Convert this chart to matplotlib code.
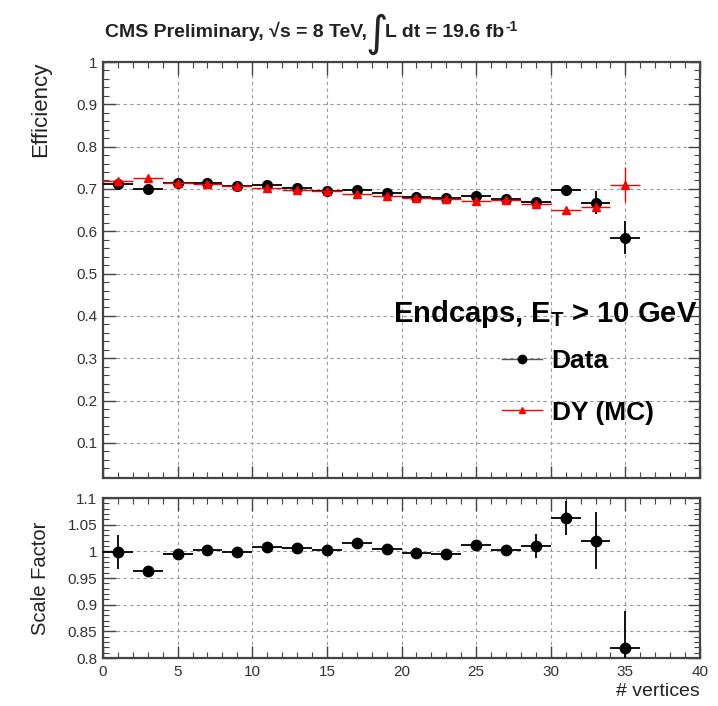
import matplotlib
matplotlib.use("Agg")
import matplotlib.pyplot as plt
from matplotlib.lines import Line2D
from matplotlib.ticker import MultipleLocator, FuncFormatter

plt.rcParams['font.family'] = ['Liberation Sans', 'DejaVu Sans']
plt.rcParams['mathtext.fontset'] = 'custom'
plt.rcParams['mathtext.rm'] = 'Liberation Sans'
plt.rcParams['mathtext.it'] = 'Liberation Sans:italic'
plt.rcParams['mathtext.bf'] = 'Liberation Sans:bold'

# bins of number of vertices (width 2)
vertices = [1, 3, 5, 7, 9, 11, 13, 15, 17, 19, 21, 23, 25, 27, 29, 31, 33, 35]
bin_half = [1] * len(vertices)

eff_data = [0.712, 0.700, 0.714, 0.714, 0.708, 0.709, 0.702, 0.694, 0.698,
            0.691, 0.680, 0.678, 0.684, 0.676, 0.670, 0.697, 0.668, 0.585]
eff_data_err = [0.012, 0.005, 0.004, 0.004, 0.004, 0.004, 0.004, 0.004, 0.004,
                0.004, 0.004, 0.005, 0.005, 0.006, 0.008, 0.012, 0.026, 0.039]
eff_mc = [0.718, 0.727, 0.714, 0.712, 0.707, 0.702, 0.698, 0.694, 0.688,
          0.684, 0.679, 0.676, 0.672, 0.674, 0.664, 0.651, 0.658, 0.710]
eff_mc_err = [0.004, 0.004, 0.002, 0.002, 0.002, 0.002, 0.002, 0.002, 0.002,
              0.002, 0.003, 0.003, 0.003, 0.004, 0.005, 0.007, 0.010, 0.041]

scale_factor = [0.998, 0.963, 0.995, 1.002, 0.998, 1.008, 1.006, 1.003, 1.015,
                1.005, 0.996, 0.995, 1.012, 1.002, 1.010, 1.062, 1.020, 0.819]
scale_factor_err = [0.032, 0.005, 0.005, 0.004, 0.005, 0.005, 0.005, 0.005, 0.005,
                    0.006, 0.006, 0.006, 0.007, 0.009, 0.022, 0.032, 0.054, 0.069]

W, H = 718, 706
fig = plt.figure(figsize=(W / 100, H / 100), dpi=100)

def px_axes(left, top, right, bottom):
    return fig.add_axes([left / W, 1 - bottom / H, (right - left) / W, (bottom - top) / H])

ax = px_axes(103, 62, 700, 478)
ax2 = px_axes(103, 498, 700, 658)

fmt = FuncFormatter(lambda v, p: f"{v:g}")
for a in (ax, ax2):
    for s in a.spines.values():
        s.set_color('#444444')
        s.set_linewidth(1.6)
    a.tick_params(which='both', direction='in', top=True, right=True,
                  colors='#444444', labelcolor='#333333', labelsize=11)
    a.tick_params(which='major', length=9, width=1.0)
    a.tick_params(which='minor', length=4.5, width=0.8)
    a.tick_params(axis='y', pad=4)
    a.set_xlim(0, 40)
    a.xaxis.set_major_locator(MultipleLocator(5))
    a.xaxis.set_minor_locator(MultipleLocator(1))
    a.xaxis.set_major_formatter(fmt)
    a.yaxis.set_major_formatter(fmt)
    a.grid(True, which='major', linestyle=(0, (3, 3)), color='#999999', linewidth=0.8)
    a.set_axisbelow(True)

# top panel
ax.set_ylim(0.017, 1.0)
ax.yaxis.set_major_locator(MultipleLocator(0.1))
ax.yaxis.set_minor_locator(MultipleLocator(0.02))
ax.tick_params(axis='x', labelbottom=False)

ax.errorbar(vertices, eff_data, xerr=bin_half, yerr=eff_data_err, fmt='o',
            color='black', ms=7, lw=1.3, capsize=0, zorder=3)
ax.errorbar(vertices, eff_mc, xerr=bin_half, yerr=eff_mc_err, fmt='^',
            color='red', ms=6, lw=1.0, capsize=0, zorder=4)

ax.text(0.995, (478 - 322) / 416, r"Endcaps, E$_{\mathbf{T}}$ > 10 GeV", transform=ax.transAxes,
        ha='right', va='baseline', fontsize=21, fontweight='bold')

handles = [Line2D([], [], color='#555555', marker='o', ms=6, mfc='black', mec='black', lw=1.0),
           Line2D([], [], color='red', marker='^', ms=5, lw=1.0)]
ax.legend(handles, ['Data', 'DY (MC)'], loc='upper left',
          bbox_to_anchor=((502 - 103) / 597, (478 - 349) / 416),
          frameon=False, borderpad=0, borderaxespad=0, handlelength=1.5,
          handletextpad=0.38, labelspacing=1.05,
          prop={'size': 19, 'weight': 'bold'})

ax.text(-0.105, 1.0, 'Efficiency', transform=ax.transAxes, rotation=90,
        ha='center', va='top', fontsize=16, color='#222222')

# ratio panel
ax2.set_ylim(0.8, 1.1)
ax2.yaxis.set_major_locator(MultipleLocator(0.05))
ax2.yaxis.set_minor_locator(MultipleLocator(0.01))
ax2.tick_params(axis='x', pad=5)
ax2.errorbar(vertices, scale_factor, xerr=bin_half, yerr=scale_factor_err, fmt='o',
             color='black', ms=7.5, lw=1.3, capsize=0, zorder=3)
ax2.text(-0.105, 0.5, 'Scale Factor', transform=ax2.transAxes, rotation=90,
         ha='center', va='center', fontsize=14.5, color='#222222')
ax2.text(1.0, (658 - 692) / 160, '# vertices', transform=ax2.transAxes,
         ha='right', va='center', fontsize=14, color='#222222')

# title, built from pieces so the integral sign can be large
tkw = dict(fontsize=14, fontweight='bold', color='#222222')
t1 = fig.text(105 / W, 1 - 41 / H, "CMS Preliminary, \u221as = 8 TeV,", ha='left', va='bottom', **tkw)
t2 = ax.annotate("\u222b", xy=(1, 0), xycoords=t1, xytext=(-1, -10), textcoords='offset points',
                 ha='left', va='bottom', family='DejaVu Sans', fontsize=31, color='#222222',
                 annotation_clip=False)
t3 = ax.annotate("L dt = 19.6 fb", xy=(1, 0), xycoords=(t2, t1), xytext=(-2, 0),
                 textcoords='offset points', ha='left', va='bottom',
                 annotation_clip=False, **tkw)
ax.annotate("-1", xy=(1, 1), xycoords=t3, xytext=(0.5, -2), textcoords='offset points',
            ha='left', va='center', fontsize=10, fontweight='bold', color='#222222',
            annotation_clip=False)

fig.savefig('out.png', dpi=100)
